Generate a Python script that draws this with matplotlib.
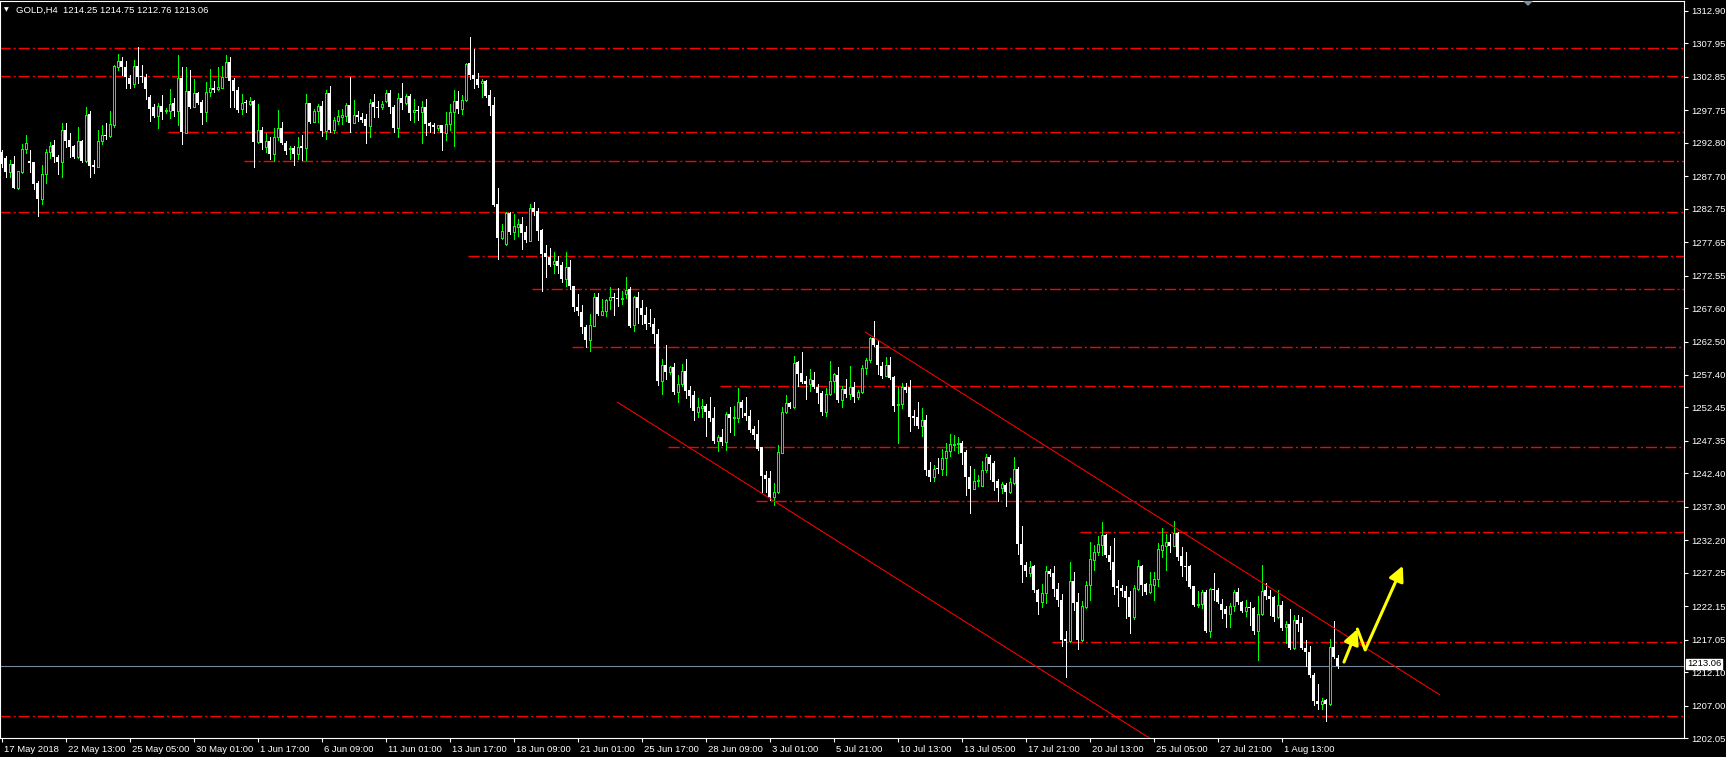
import numpy as np
import matplotlib
matplotlib.use('Agg')
import matplotlib.pyplot as plt
from matplotlib.patches import Polygon
from matplotlib.transforms import ScaledTranslation

plt.rcParams['font.family'] = ['Liberation Sans', 'DejaVu Sans']

# GOLD H4 candles (open, high, low, close)
opens = [
    1291.46, 1290.55, 1288.42, 1289.58, 1285.98, 1288.42, 1291.82, 1289.99, 1289.89, 1286.74,
    1284.30, 1288.06, 1291.36, 1292.48, 1290.70, 1289.94, 1294.77, 1293.24, 1292.38, 1290.70,
    1293.14, 1290.04, 1297.20, 1289.43, 1289.18, 1293.09, 1294.00, 1293.90, 1295.58, 1304.42,
    1305.23, 1304.42, 1302.74, 1301.78, 1304.52, 1302.89, 1302.89, 1299.85, 1298.22, 1296.90,
    1298.42, 1297.61, 1297.61, 1298.88, 1297.71, 1302.74, 1294.36, 1300.71, 1298.32, 1300.35,
    1299.03, 1297.46, 1300.56, 1301.17, 1301.07, 1301.22, 1302.89, 1305.08, 1302.39, 1300.86,
    1297.97, 1298.93, 1298.78, 1299.19, 1292.99, 1294.77, 1292.23, 1293.09, 1291.11, 1293.65,
    1295.02, 1292.73, 1291.82, 1291.97, 1291.11, 1292.33, 1292.07, 1298.83, 1296.04, 1297.66,
    1298.42, 1294.61, 1300.35, 1294.77, 1296.14, 1296.80, 1296.90, 1298.53, 1295.88, 1297.05,
    1296.75, 1296.44, 1295.43, 1299.03, 1298.22, 1298.22, 1299.19, 1300.35, 1298.32, 1295.12,
    1299.59, 1298.93, 1299.95, 1297.46, 1297.81, 1297.56, 1298.22, 1295.78, 1295.53, 1295.12,
    1295.48, 1294.26, 1295.63, 1297.46, 1299.13, 1297.92, 1299.34, 1304.93, 1303.15, 1302.54,
    1301.88, 1302.23, 1300.10, 1298.53, 1283.43, 1278.36, 1277.44, 1282.07, 1279.27, 1280.03,
    1280.44, 1279.22, 1277.90, 1282.83, 1282.42, 1279.53, 1275.97, 1275.36, 1274.39, 1274.80,
    1274.19, 1272.06, 1273.89, 1270.99, 1267.69, 1267.03, 1264.79, 1262.76, 1264.94, 1269.31,
    1266.57, 1267.08, 1268.81, 1269.31, 1269.11, 1268.96, 1269.77, 1270.48, 1265.00, 1269.31,
    1267.59, 1266.57, 1265.25, 1265.20, 1263.67, 1256.41, 1258.95, 1257.78, 1258.64, 1254.73,
    1256.00, 1258.03, 1255.14, 1254.38, 1251.68, 1252.29, 1252.70, 1251.93, 1250.87, 1247.36,
    1247.92, 1247.11, 1251.48, 1250.77, 1250.82, 1253.30, 1251.58, 1251.17, 1249.19, 1248.43,
    1246.35, 1242.18, 1241.72, 1238.72, 1239.54, 1245.58, 1251.73, 1253.10, 1252.49, 1259.40,
    1257.67, 1256.51, 1256.05, 1256.66, 1255.64, 1254.63, 1251.68, 1254.47, 1256.51, 1257.42,
    1253.51, 1255.24, 1254.47, 1255.64, 1254.02, 1254.78, 1258.44, 1259.71, 1263.01, 1261.99,
    1258.79, 1257.27, 1258.95, 1257.06, 1252.80, 1252.95, 1255.64, 1255.64, 1251.07, 1250.92,
    1249.65, 1250.56, 1242.94, 1241.82, 1243.19, 1242.99, 1244.72, 1245.79, 1246.75, 1246.90,
    1247.00, 1245.68, 1241.92, 1240.04, 1241.21, 1240.45, 1242.84, 1244.87, 1244.00, 1241.26,
    1240.24, 1240.65, 1239.53, 1240.91, 1243.04, 1231.66, 1228.46, 1227.19, 1228.31, 1224.65,
    1222.82, 1224.14, 1227.54, 1227.24, 1224.75, 1223.12, 1217.18, 1216.77, 1226.02, 1222.72,
    1217.03, 1222.01, 1225.31, 1229.12, 1230.39, 1231.41, 1233.03, 1229.98, 1228.91, 1225.16,
    1224.95, 1224.39, 1223.48, 1220.43, 1224.80, 1228.31, 1225.51, 1224.24, 1225.41, 1226.33,
    1230.75, 1231.25, 1231.91, 1231.35, 1233.28, 1229.73, 1228.20, 1228.20, 1225.16, 1222.36,
    1222.46, 1224.29, 1218.40, 1224.75, 1224.65, 1222.52, 1221.75, 1220.99, 1222.11, 1224.24,
    1222.82, 1221.35, 1222.01, 1221.85, 1218.40, 1220.94, 1224.55, 1223.73, 1223.48, 1220.43,
    1222.36, 1218.91, 1219.42, 1215.76, 1220.08, 1219.57, 1215.76, 1215.15, 1211.69, 1207.68,
    1207.27, 1207.78, 1207.27, 1215.91, 1214.25]
highs = [
    1291.72, 1290.80, 1290.19, 1290.80, 1288.52, 1292.63, 1294.00, 1291.72, 1289.89, 1286.94,
    1289.43, 1291.87, 1292.99, 1293.24, 1290.96, 1295.83, 1295.88, 1294.36, 1292.48, 1295.22,
    1293.24, 1298.22, 1297.71, 1290.19, 1294.77, 1295.53, 1295.78, 1297.71, 1304.67, 1306.35,
    1305.84, 1305.28, 1303.15, 1305.43, 1307.36, 1304.67, 1303.30, 1300.10, 1298.73, 1298.93,
    1300.10, 1298.07, 1301.01, 1299.59, 1306.20, 1304.42, 1304.42, 1303.91, 1302.54, 1300.61,
    1299.34, 1302.08, 1304.01, 1302.23, 1304.42, 1304.52, 1306.15, 1305.84, 1302.64, 1301.27,
    1300.25, 1299.34, 1299.74, 1299.34, 1298.73, 1295.17, 1294.26, 1293.75, 1295.02, 1297.81,
    1295.99, 1293.09, 1292.33, 1292.33, 1293.65, 1294.00, 1300.25, 1298.90, 1297.92, 1298.73,
    1299.19, 1300.86, 1301.47, 1296.80, 1297.81, 1298.02, 1298.83, 1302.79, 1299.34, 1297.71,
    1297.31, 1297.20, 1299.54, 1300.25, 1299.13, 1299.13, 1300.86, 1300.86, 1298.58, 1300.35,
    1301.98, 1300.25, 1300.25, 1299.49, 1298.42, 1299.19, 1299.44, 1295.99, 1295.78, 1295.53,
    1295.58, 1297.51, 1298.73, 1300.86, 1300.71, 1300.10, 1305.03, 1308.99, 1307.06, 1303.40,
    1302.49, 1302.39, 1300.86, 1299.74, 1285.88, 1280.44, 1282.22, 1282.22, 1281.91, 1281.15,
    1281.46, 1280.14, 1283.49, 1283.79, 1282.93, 1279.68, 1277.24, 1276.78, 1276.17, 1275.56,
    1274.60, 1276.17, 1274.95, 1270.99, 1269.77, 1268.10, 1265.05, 1266.72, 1269.87, 1269.87,
    1268.96, 1269.06, 1270.79, 1269.97, 1270.63, 1270.23, 1272.36, 1270.79, 1269.40, 1270.07,
    1268.86, 1267.84, 1267.49, 1266.06, 1264.38, 1259.81, 1262.00, 1258.80, 1259.20, 1257.42,
    1259.05, 1259.81, 1255.65, 1254.99, 1253.87, 1253.71, 1253.00, 1254.02, 1252.59, 1248.28,
    1249.14, 1251.83, 1252.59, 1252.70, 1255.49, 1253.61, 1254.02, 1252.09, 1249.55, 1250.56,
    1246.40, 1242.79, 1242.79, 1240.91, 1246.65, 1252.59, 1254.37, 1253.35, 1260.32, 1259.50,
    1260.93, 1257.17, 1258.28, 1257.83, 1256.05, 1255.03, 1255.39, 1259.55, 1257.67, 1258.59,
    1255.74, 1256.86, 1258.79, 1256.35, 1255.14, 1258.90, 1259.96, 1263.16, 1265.65, 1262.76,
    1259.40, 1260.11, 1260.11, 1257.27, 1255.64, 1256.15, 1256.15, 1256.66, 1252.09, 1253.30,
    1252.34, 1251.32, 1244.06, 1243.65, 1244.72, 1246.09, 1247.01, 1248.43, 1248.20, 1248.00,
    1247.36, 1245.99, 1243.55, 1243.04, 1242.12, 1244.21, 1245.38, 1245.22, 1244.21, 1241.51,
    1241.11, 1240.91, 1241.67, 1244.87, 1243.34, 1234.40, 1228.81, 1229.07, 1228.46, 1224.80,
    1225.56, 1228.20, 1227.85, 1228.31, 1225.66, 1224.04, 1218.40, 1228.91, 1227.39, 1224.14,
    1222.87, 1225.92, 1232.01, 1231.51, 1232.78, 1235.01, 1233.13, 1231.35, 1232.62, 1226.17,
    1225.36, 1225.16, 1224.39, 1225.31, 1229.12, 1228.46, 1225.66, 1227.34, 1227.34, 1231.76,
    1234.05, 1233.13, 1233.13, 1235.16, 1233.49, 1231.15, 1230.39, 1228.41, 1225.26, 1224.50,
    1224.65, 1224.65, 1224.90, 1227.19, 1224.90, 1223.23, 1222.11, 1222.62, 1224.55, 1224.90,
    1222.97, 1223.13, 1222.72, 1222.01, 1223.73, 1228.46, 1225.67, 1224.65, 1223.63, 1224.65,
    1222.87, 1219.92, 1221.70, 1220.84, 1220.84, 1220.48, 1216.93, 1216.01, 1211.95, 1210.32,
    1208.14, 1207.98, 1217.18, 1219.92, 1214.75]
lows = [
    1289.18, 1287.65, 1287.65, 1285.90, 1285.83, 1288.16, 1291.31, 1288.42, 1285.72, 1281.71,
    1283.54, 1286.74, 1290.45, 1289.94, 1288.11, 1287.55, 1292.12, 1290.70, 1290.55, 1290.55,
    1289.94, 1289.90, 1287.55, 1288.16, 1289.10, 1292.63, 1293.39, 1293.75, 1295.17, 1303.91,
    1303.15, 1301.22, 1301.22, 1301.37, 1301.88, 1302.13, 1299.54, 1296.19, 1296.80, 1295.12,
    1296.49, 1297.41, 1296.59, 1296.90, 1295.58, 1292.63, 1294.26, 1298.07, 1298.22, 1298.73,
    1295.68, 1296.19, 1299.95, 1300.56, 1300.86, 1301.12, 1302.79, 1298.32, 1298.22, 1297.56,
    1297.20, 1297.51, 1298.63, 1289.08, 1292.84, 1291.87, 1291.46, 1290.40, 1290.09, 1293.24,
    1292.58, 1291.11, 1290.35, 1289.48, 1290.40, 1290.19, 1290.19, 1295.88, 1295.93, 1296.00,
    1293.85, 1293.39, 1294.51, 1294.26, 1295.68, 1295.68, 1296.19, 1294.41, 1295.80, 1296.19,
    1296.04, 1292.84, 1293.75, 1296.70, 1296.70, 1297.92, 1298.98, 1297.31, 1294.51, 1293.75,
    1297.92, 1298.73, 1296.29, 1296.04, 1296.29, 1292.84, 1294.00, 1294.51, 1294.26, 1294.77,
    1291.72, 1293.24, 1294.77, 1292.33, 1297.31, 1297.20, 1299.19, 1302.49, 1301.17, 1301.37,
    1299.85, 1299.74, 1297.05, 1283.23, 1275.11, 1278.10, 1277.29, 1278.92, 1278.15, 1278.66,
    1276.68, 1277.75, 1277.90, 1281.81, 1278.00, 1270.13, 1272.41, 1273.94, 1272.92, 1273.02,
    1271.50, 1270.89, 1270.53, 1267.23, 1266.47, 1263.77, 1261.74, 1261.13, 1264.89, 1266.57,
    1266.47, 1266.42, 1267.49, 1266.57, 1267.99, 1268.20, 1269.16, 1264.79, 1264.18, 1265.40,
    1265.20, 1264.44, 1264.94, 1262.35, 1255.80, 1254.53, 1256.76, 1257.58, 1254.53, 1253.21,
    1255.75, 1253.87, 1252.45, 1250.46, 1251.00, 1250.92, 1248.12, 1250.31, 1247.01, 1245.74,
    1246.65, 1245.89, 1248.78, 1248.28, 1250.16, 1250.97, 1250.56, 1248.78, 1247.61, 1245.89,
    1239.49, 1239.49, 1238.37, 1237.61, 1239.38, 1245.48, 1251.58, 1252.34, 1252.34, 1255.74,
    1256.25, 1253.76, 1255.03, 1255.39, 1253.20, 1251.32, 1251.07, 1254.40, 1254.88, 1253.30,
    1252.59, 1254.02, 1253.71, 1253.35, 1253.76, 1254.63, 1257.57, 1259.35, 1261.84, 1257.57,
    1256.91, 1257.17, 1256.76, 1251.98, 1247.00, 1252.34, 1254.73, 1248.89, 1249.80, 1249.39,
    1248.02, 1242.18, 1241.26, 1241.16, 1242.53, 1242.18, 1242.18, 1245.07, 1245.99, 1245.58,
    1243.85, 1239.03, 1236.33, 1240.00, 1240.40, 1240.40, 1242.68, 1241.57, 1239.89, 1238.21,
    1239.48, 1237.35, 1239.38, 1240.80, 1230.13, 1225.77, 1226.78, 1226.68, 1224.24, 1220.94,
    1222.01, 1222.62, 1226.68, 1223.63, 1222.11, 1216.01, 1211.29, 1216.62, 1221.50, 1215.60,
    1216.77, 1221.85, 1223.02, 1227.59, 1229.98, 1229.98, 1229.63, 1227.80, 1224.04, 1222.11,
    1223.63, 1220.33, 1218.04, 1220.18, 1224.55, 1223.89, 1223.99, 1224.14, 1223.02, 1225.26,
    1229.63, 1227.59, 1230.34, 1231.30, 1229.22, 1226.68, 1226.17, 1224.85, 1222.11, 1221.96,
    1221.85, 1218.25, 1217.38, 1223.13, 1222.62, 1220.33, 1218.96, 1218.96, 1221.35, 1222.46,
    1221.19, 1220.69, 1219.31, 1217.94, 1213.88, 1220.84, 1223.23, 1220.84, 1219.92, 1220.33,
    1218.55, 1216.52, 1215.61, 1215.61, 1218.30, 1215.61, 1213.07, 1211.34, 1207.02, 1206.46,
    1206.46, 1204.58, 1207.12, 1214.18, 1212.76]
closes = [
    1289.53, 1288.42, 1289.58, 1285.98, 1288.52, 1291.82, 1292.73, 1289.79, 1286.59, 1284.30,
    1288.06, 1291.36, 1292.33, 1290.70, 1289.94, 1294.77, 1293.14, 1292.23, 1290.70, 1293.04,
    1290.04, 1297.05, 1289.33, 1289.18, 1293.09, 1293.95, 1293.90, 1295.68, 1304.52, 1305.23,
    1304.42, 1302.89, 1301.78, 1304.52, 1302.79, 1302.79, 1301.01, 1298.02, 1296.90, 1298.42,
    1297.56, 1297.81, 1298.68, 1297.71, 1302.64, 1294.41, 1300.71, 1298.32, 1300.35, 1298.93,
    1297.36, 1300.56, 1301.12, 1300.86, 1301.27, 1302.89, 1305.08, 1302.28, 1300.76, 1297.81,
    1298.83, 1298.83, 1299.19, 1292.99, 1294.77, 1292.84, 1293.09, 1291.11, 1293.65, 1295.02,
    1292.73, 1291.57, 1292.07, 1291.11, 1292.23, 1292.07, 1298.83, 1296.04, 1297.66, 1298.42,
    1294.61, 1300.35, 1294.77, 1296.29, 1296.85, 1297.00, 1298.53, 1295.88, 1297.00, 1296.80,
    1296.29, 1295.43, 1298.83, 1298.22, 1298.12, 1298.73, 1300.35, 1298.32, 1295.12, 1299.59,
    1298.93, 1299.95, 1297.41, 1297.81, 1297.61, 1298.22, 1295.68, 1295.43, 1295.17, 1295.48,
    1294.26, 1295.63, 1297.46, 1299.13, 1297.97, 1299.34, 1304.77, 1303.15, 1302.49, 1301.62,
    1302.23, 1299.95, 1298.47, 1283.33, 1278.36, 1279.37, 1282.07, 1279.27, 1280.14, 1280.44,
    1279.12, 1278.00, 1282.83, 1282.32, 1279.37, 1275.87, 1275.36, 1274.19, 1274.80, 1274.09,
    1272.06, 1273.89, 1270.89, 1267.69, 1267.08, 1264.64, 1262.76, 1265.00, 1269.31, 1266.72,
    1267.18, 1268.81, 1269.26, 1269.11, 1268.96, 1269.16, 1270.33, 1264.89, 1269.31, 1267.59,
    1266.47, 1265.20, 1265.10, 1263.62, 1256.41, 1258.95, 1257.78, 1258.69, 1254.73, 1256.00,
    1258.03, 1254.98, 1254.22, 1251.84, 1252.45, 1252.70, 1251.78, 1250.77, 1247.36, 1247.92,
    1247.11, 1251.48, 1250.77, 1250.92, 1253.25, 1252.39, 1251.17, 1249.04, 1248.28, 1246.09,
    1242.03, 1241.57, 1238.72, 1239.59, 1245.63, 1251.73, 1253.10, 1252.49, 1259.20, 1257.57,
    1256.40, 1256.05, 1256.76, 1255.64, 1254.63, 1251.68, 1254.47, 1256.51, 1257.52, 1253.51,
    1255.24, 1254.47, 1255.64, 1254.02, 1254.78, 1258.49, 1259.71, 1263.01, 1261.99, 1258.90,
    1257.27, 1258.95, 1256.91, 1252.70, 1253.00, 1255.64, 1255.14, 1250.92, 1250.82, 1249.65,
    1250.56, 1242.84, 1241.92, 1243.14, 1242.99, 1244.72, 1245.79, 1246.90, 1246.90, 1247.10,
    1245.58, 1241.77, 1240.04, 1241.26, 1241.41, 1242.89, 1244.87, 1243.85, 1241.01, 1240.24,
    1240.80, 1239.53, 1241.01, 1243.04, 1231.56, 1228.36, 1227.44, 1228.10, 1224.55, 1222.82,
    1224.14, 1227.54, 1227.09, 1224.75, 1223.02, 1217.03, 1216.77, 1226.02, 1222.62, 1217.03,
    1222.11, 1225.41, 1229.37, 1230.44, 1231.66, 1233.03, 1229.88, 1228.81, 1225.00, 1224.95,
    1224.39, 1223.38, 1220.43, 1224.90, 1228.31, 1225.31, 1224.24, 1225.51, 1226.33, 1230.85,
    1231.51, 1231.91, 1231.25, 1233.28, 1229.63, 1228.20, 1228.10, 1225.00, 1222.36, 1222.51,
    1224.29, 1218.40, 1224.75, 1224.55, 1222.72, 1221.60, 1220.99, 1222.11, 1224.24, 1222.72,
    1221.35, 1222.01, 1221.91, 1218.40, 1220.94, 1224.40, 1223.63, 1223.28, 1220.43, 1222.36,
    1218.81, 1219.42, 1215.76, 1220.08, 1219.42, 1215.76, 1215.10, 1211.69, 1207.63, 1207.27,
    1207.68, 1207.27, 1215.91, 1214.39, 1213.06]

time_labels = ['17 May 2018', '22 May 13:00', '25 May 05:00', '30 May 01:00', '1 Jun 17:00',
               '6 Jun 09:00', '11 Jun 01:00', '13 Jun 17:00', '18 Jun 09:00', '21 Jun 01:00',
               '25 Jun 17:00', '28 Jun 09:00', '3 Jul 01:00', '5 Jul 21:00', '10 Jul 13:00',
               '13 Jul 05:00', '17 Jul 21:00', '20 Jul 13:00', '25 Jul 05:00', '27 Jul 21:00',
               '1 Aug 13:00']
bars_per_label = 16

price_ticks = [1312.90, 1307.95, 1302.85, 1297.75, 1292.80, 1287.70, 1282.75, 1277.65,
               1272.55, 1267.60, 1262.50, 1257.40, 1252.45, 1247.35, 1242.40, 1237.30,
               1232.20, 1227.25, 1222.15, 1217.05, 1212.10, 1207.00, 1202.05]

# horizontal support/resistance levels and the bar where each one starts
level_prices = [1307.2, 1303.0, 1294.45, 1290.0, 1282.2, 1275.5, 1270.5, 1261.6,
                1255.7, 1246.4, 1238.2, 1233.4, 1216.7, 1205.4]
level_start = [0, 0, 42, 61, 0, 117, 133, 143, 180, 167, 189, 270, 263, 0]

# descending channel (bar, price)
upper_bars = [215.95, 359.5]
upper_prices = [1263.93, 1208.66]
lower_bars = [153.95, 300.0]
lower_prices = [1253.26, 1197.03]

# yellow forecast zigzag (bar, price)
arrow_bars = [335.6, 338.95, 340.9, 350.3]
arrow_prices = [1213.63, 1218.66, 1215.5, 1228.31]

bid = 1213.06
title = 'GOLD,H4  1214.25 1214.75 1212.76 1213.06'

W, H = 1726, 757
fig = plt.figure(figsize=(W / 100, H / 100), dpi=100, facecolor='black')
ax = fig.add_axes([0, (H - 738) / H, 1684 / W, 737 / H], facecolor='black')

o = np.array(opens)
h = np.array(highs)
l = np.array(lows)
c = np.array(closes)
x = np.arange(len(c))
up = c > o

# levels
for p, s in zip(level_prices, level_start):
    ax.hlines(p, s - 0.5, 421, colors='red', linewidth=1.0,
              linestyles=[(0, (8, 2.2, 1.4, 2.2))], zorder=1)

# bid line
ax.axhline(bid, color='#778899', linewidth=0.8, zorder=1)

# candles: bull = hollow lime, bear = solid white
wick_cols = ['#00ff00' if u else 'white' for u in up]
ax.vlines(x, l, h, colors=wick_cols, linewidth=0.72, antialiased=False, zorder=2)
lo = np.minimum(o, c)
bh = np.maximum(np.abs(c - o), 0.15)
ax.bar(x[up], bh[up], bottom=lo[up], width=0.5, facecolor='black',
       edgecolor='#00ff00', linewidth=0.72, antialiased=False, zorder=3)
ax.bar(x[~up], bh[~up], bottom=lo[~up], width=0.75, color='white',
       linewidth=0, antialiased=False, zorder=3)

# channel
ax.plot(upper_bars, upper_prices, color='red', linewidth=0.75, zorder=4)
ax.plot(lower_bars, lower_prices, color='red', linewidth=0.75, zorder=4)

# yellow arrows
ap = dict(arrowstyle='-|>,head_length=0.9,head_width=0.45', color='yellow',
          lw=2.2, shrinkA=0, shrinkB=0)
ax.annotate('', xy=(arrow_bars[1], arrow_prices[1]),
            xytext=(arrow_bars[0], arrow_prices[0]), arrowprops=ap, zorder=5)
ax.plot(arrow_bars[1:3], arrow_prices[1:3], color='yellow', linewidth=2.2,
        solid_capstyle='round', zorder=5)
ax.annotate('', xy=(arrow_bars[3], arrow_prices[3]),
            xytext=(arrow_bars[2], arrow_prices[2]), arrowprops=ap, zorder=5)

ax.set_xlim(-0.375, 420.6)
ax.set_ylim(1202.10, 1314.42)

for sp in ax.spines.values():
    sp.set_color('white')
    sp.set_linewidth(0.8)

ax.yaxis.tick_right()
ax.set_yticks(price_ticks)
ax.set_yticklabels(['%.2f' % t for t in price_ticks])
ax.tick_params(axis='y', colors='white', length=3, width=0.8, pad=2.5, labelsize=6.8)

ax.set_xticks(np.arange(len(time_labels)) * bars_per_label)
ax.set_xticklabels(time_labels)
ax.tick_params(axis='x', colors='white', length=3, width=0.8, pad=2.0, labelsize=6.8)
for lbl in ax.get_xticklabels():
    lbl.set_ha('left')
    lbl.set_transform(lbl.get_transform() + ScaledTranslation(2 / 100, 0, fig.dpi_scale_trans))

# header
fig.text(16 / W, 1 - 10 / H, title, color='white', fontsize=6.8, va='center', ha='left')
fig.text(4 / W, 1 - 10 / H, '\u25bc', color='white', fontsize=4.5, va='center', ha='left',
         family=['DejaVu Sans'])

# chart shift marker
fig.add_artist(Polygon([[1523 / W, 1 - 1 / H], [1533 / W, 1 - 1 / H], [1528 / W, 1 - 6 / H]],
                       closed=True, facecolor='#7f8fa6', edgecolor='none',
                       transform=fig.transFigure))

# bid price label
fig.text(1687 / W, 1 - 664 / H, '%.2f' % bid, color='black', fontsize=6.8, va='center',
         ha='left', bbox=dict(facecolor='white', edgecolor='white', pad=0.6))

fig.savefig('out.png', dpi=100, facecolor='black')
